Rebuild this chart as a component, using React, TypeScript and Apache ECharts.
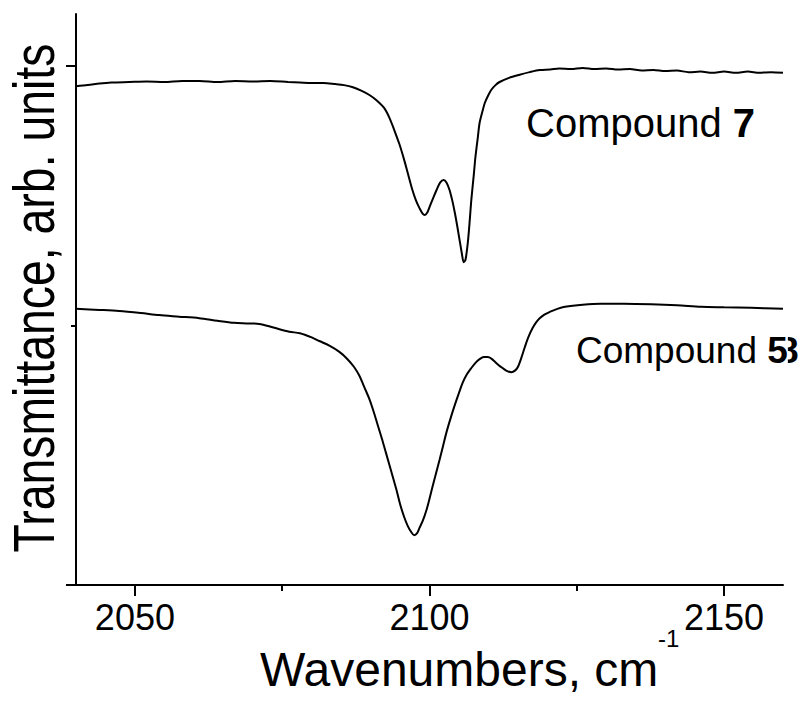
import React, { useEffect, useRef } from "react";
import * as echarts from "echarts";

// IR spectra in the cyanide stretching region (wavenumber, transmittance in arb. units)
const compound7: [number, number][] = [
  [2040, 96.1], [2042, 96.3], [2044, 96.6], [2046, 96.8], [2049, 96.9], [2052, 97.0],
  [2055, 96.9], [2058, 97.1], [2061, 97.1], [2064, 96.9], [2067, 97.1], [2070, 97.0],
  [2073, 97.1], [2076, 96.9], [2078, 96.8], [2080, 96.7], [2082, 96.7], [2084, 96.5],
  [2085.5, 96.3], [2087, 95.9], [2088.5, 95.2], [2089.8, 94.4], [2091, 93.4], [2092.3, 91.9],
  [2093.2, 90.0], [2094, 87.7], [2094.9, 84.9], [2095.7, 81.9], [2096.4, 79.0], [2097.1, 76.1],
  [2097.7, 74.1], [2098.3, 72.6], [2098.8, 71.6], [2099.2, 71.3], [2099.6, 71.7], [2100.0, 72.8],
  [2100.6, 74.5], [2101.2, 76.1], [2101.8, 77.5], [2102.4, 78.0], [2102.9, 77.5], [2103.4, 76.1],
  [2103.9, 73.9], [2104.3, 71.7], [2104.7, 69.2], [2105.1, 66.5], [2105.5, 63.8], [2105.8, 62.2],
  [2106.1, 62.6], [2106.5, 65.9], [2106.8, 69.8], [2107.1, 74.2], [2107.5, 78.8], [2107.8, 82.5],
  [2108.2, 86.2], [2108.5, 89.0], [2109.0, 91.3], [2109.4, 92.9], [2110.0, 94.4], [2110.5, 95.4],
  [2111.2, 96.3], [2111.9, 96.9], [2113.5, 97.7], [2115.3, 98.3], [2117, 98.8], [2118.7, 99.2],
  [2120.5, 99.3], [2122, 99.5], [2124, 99.4], [2126, 99.6], [2128, 99.4], [2130, 99.5],
  [2132, 99.3], [2134, 99.4], [2136, 99.1], [2138, 99.2], [2140, 99.0], [2142, 99.1],
  [2144, 98.8], [2146, 98.9], [2148, 98.7], [2150, 98.9], [2152, 98.7], [2154, 98.9],
  [2156, 98.7], [2158, 98.8], [2160, 98.7],
];

const compound5: [number, number][] = [
  [2040, 53.2], [2044, 53.0], [2047.3, 52.8], [2051, 52.4], [2054.1, 52.0], [2057.5, 51.7],
  [2060.9, 51.4], [2064, 50.9], [2066.8, 50.5], [2069, 50.4], [2071.1, 50.3], [2073.5, 49.6],
  [2076.2, 48.8], [2078, 48.5], [2080, 47.7], [2081.3, 47.0], [2083, 46.1], [2084.7, 44.9],
  [2086, 43.6], [2087.2, 42.0], [2088.1, 40.3], [2088.9, 38.2], [2089.8, 35.8], [2090.6, 33.1],
  [2091.3, 30.5], [2092.0, 27.9], [2092.6, 25.5], [2093.2, 23.1], [2093.8, 20.7], [2094.4, 18.3],
  [2095.0, 15.6], [2095.7, 13.1], [2096.3, 11.4], [2096.9, 10.2], [2097.4, 9.6], [2097.9, 10.0],
  [2098.3, 11.0], [2098.9, 12.5], [2099.5, 14.5], [2100.0, 16.6], [2100.5, 18.9], [2101.1, 21.5],
  [2101.7, 24.1], [2102.3, 26.8], [2102.9, 29.5], [2103.6, 32.2], [2104.3, 34.7], [2105.0, 37.0],
  [2105.6, 38.9], [2106.3, 40.5], [2107.1, 41.8], [2107.8, 42.8], [2108.5, 43.5], [2109.2, 43.9],
  [2109.9, 43.9], [2110.5, 43.6], [2111.1, 43.0], [2111.8, 42.3], [2112.4, 41.8], [2113.2, 41.2],
  [2113.9, 41.0], [2114.5, 41.3], [2115.0, 42.0], [2115.6, 43.8], [2116.2, 45.9], [2116.8, 47.8],
  [2117.5, 49.5], [2118.1, 50.6], [2118.7, 51.4], [2119.5, 52.1], [2120.4, 52.6], [2121.7, 53.2],
  [2123.0, 53.6], [2126, 54.0], [2129, 54.2], [2133, 54.2], [2137.6, 54.1], [2142, 53.9],
  [2146.1, 53.6], [2150, 53.5], [2154.6, 53.4], [2160, 53.2],
];

const xRange = [2040, 2160];
const xMajorTicks = [2050, 2100, 2150];
const xMinorTicks = [2075, 2125];
const yRange = [0, 110];
const yMajorTicks = [0, 100];
const yMinorTicks = [50];

const FONT = "'Liberation Sans', Arial, Helvetica, sans-serif";
const BLACK = "#000";

export default function App() {
  const ref = useRef<HTMLDivElement>(null);

  useEffect(() => {
    if (!ref.current) return;
    const chart = echarts.init(ref.current, null, { renderer: "svg" });

    const axisLine = { show: true, lineStyle: { color: BLACK, width: 2 } };

    chart.setOption({
      animation: false,
      backgroundColor: "#fff",
      grid: { left: 76, right: 17, top: 14, bottom: 117, outerBoundsMode: "none" },
      xAxis: [
        {
          type: "value",
          min: xRange[0],
          max: xRange[1],
          position: "bottom",
          axisLine,
          axisTick: {
            show: true,
            customValues: xMajorTicks,
            length: 11,
            lineStyle: { color: BLACK, width: 2 },
          },
          axisLabel: {
            show: true,
            customValues: xMajorTicks,
            formatter: (v: number) => String(v),
            fontSize: 36,
            fontFamily: FONT,
            color: BLACK,
            margin: 14,
          },
          splitLine: { show: false },
        },
        {
          type: "value",
          min: xRange[0],
          max: xRange[1],
          position: "bottom",
          axisLine: { show: false },
          axisTick: {
            show: true,
            customValues: xMinorTicks,
            length: 6,
            lineStyle: { color: BLACK, width: 2 },
          },
          axisLabel: { show: false },
          splitLine: { show: false },
        },
      ],
      yAxis: [
        {
          type: "value",
          min: yRange[0],
          max: yRange[1],
          position: "left",
          axisLine,
          axisTick: {
            show: true,
            customValues: yMajorTicks,
            length: 10,
            lineStyle: { color: BLACK, width: 2 },
          },
          axisLabel: { show: false },
          splitLine: { show: false },
        },
        {
          type: "value",
          min: yRange[0],
          max: yRange[1],
          position: "left",
          axisLine: { show: false },
          axisTick: {
            show: true,
            customValues: yMinorTicks,
            length: 5,
            lineStyle: { color: BLACK, width: 2 },
          },
          axisLabel: { show: false },
          splitLine: { show: false },
        },
      ],
      series: [
        {
          name: "Compound 7",
          type: "line",
          xAxisIndex: 0,
          yAxisIndex: 0,
          data: compound7,
          showSymbol: false,
          smooth: 0.3,
          lineStyle: { color: BLACK, width: 2 },
        },
        {
          name: "Compound 5",
          type: "line",
          xAxisIndex: 0,
          yAxisIndex: 0,
          data: compound5,
          showSymbol: false,
          smooth: 0.3,
          lineStyle: { color: BLACK, width: 2 },
        },
      ],
      graphic: [
        {
          type: "text",
          x: 34,
          y: 298,
          rotation: Math.PI / 2,
          scaleX: 0.8,
          style: {
            text: "Transmittance, arb. units",
            font: `58px ${FONT}`,
            fill: BLACK,
            align: "center",
            verticalAlign: "middle",
          },
        },
        {
          type: "text",
          x: 260,
          y: 669,
          style: {
            text: "Wavenumbers, cm",
            font: `48px ${FONT}`,
            fill: BLACK,
            align: "left",
            verticalAlign: "middle",
          },
        },
        {
          type: "text",
          x: 658,
          y: 638,
          style: {
            text: "-1",
            font: `24px ${FONT}`,
            fill: BLACK,
            align: "left",
            verticalAlign: "middle",
          },
        },
        {
          type: "text",
          x: 526,
          y: 123,
          style: {
            text: "Compound {b|7}",
            font: `40px ${FONT}`,
            fill: BLACK,
            align: "left",
            verticalAlign: "middle",
            rich: { b: { fontSize: 40, fontWeight: "bold", fontFamily: FONT, fill: BLACK } },
          },
        },
        {
          type: "text",
          x: 778,
          y: 350,
          style: {
            text: "8",
            font: `bold 37px ${FONT}`,
            fill: BLACK,
            align: "left",
            verticalAlign: "middle",
          },
        },
        {
          type: "text",
          x: 576,
          y: 350,
          style: {
            text: "Compound {b|5}",
            font: `37px ${FONT}`,
            fill: BLACK,
            align: "left",
            verticalAlign: "middle",
            rich: {
              b: {
                fontSize: 37,
                fontWeight: "bold",
                fontFamily: FONT,
                fill: BLACK,
                backgroundColor: "#fff",
              },
            },
          },
        },
      ],
    });

    return () => chart.dispose();
  }, []);

  return (
    <div
      ref={ref}
      style={{ position: "fixed", left: 0, top: 0, width: 800, height: 702 }}
    />
  );
}
